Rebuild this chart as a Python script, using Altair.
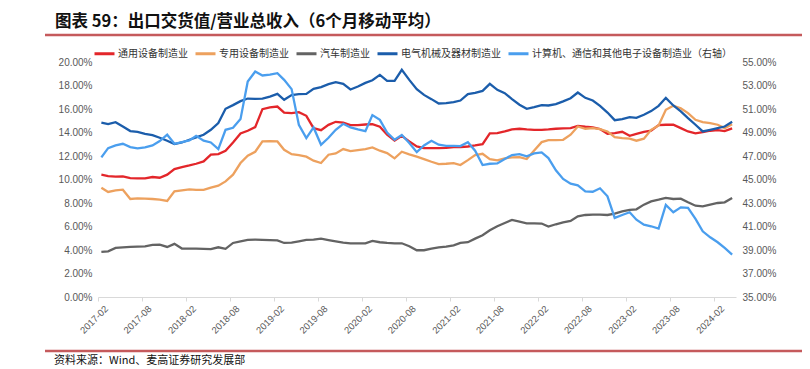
import altair as alt
import pandas as pd

# monthly points, 2017-02 .. 2024-04 (placed mid-month like Excel's date axis)
months = []
yy, mm = 2017, 2
for _ in range(87):
    months.append(f"{yy}-{mm:02d}-15")
    mm += 1
    if mm > 12:
        mm = 1
        yy += 1

general = [10.41, 10.29, 10.24, 10.26, 10.12, 10.10, 10.10, 10.21, 10.15, 10.41,
           10.89, 11.06, 11.20, 11.34, 11.54, 12.11, 12.16, 12.45, 13.15, 13.92,
           14.15, 14.46, 15.99, 16.13, 16.21, 15.70, 15.65, 15.73, 15.42, 14.37,
           14.20, 14.65, 14.91, 14.85, 14.63, 14.63, 14.68, 14.71, 14.49, 13.81,
           13.32, 13.72, 13.24, 12.81, 12.67, 12.67, 12.67, 12.70, 12.76, 12.76,
           12.81, 12.90, 13.01, 13.92, 13.95, 14.09, 14.26, 14.32, 14.26, 14.23,
           14.23, 14.26, 14.32, 14.35, 14.37, 14.57, 14.49, 14.43, 14.29, 13.89,
           13.95, 14.06, 13.72, 13.89, 14.06, 14.15, 14.63, 14.66, 14.66, 14.37,
           14.09, 13.92, 14.03, 14.15, 14.20, 14.12, 14.35]

special = [9.30, 8.94, 9.08, 9.13, 8.34, 8.40, 8.37, 8.34, 8.28, 8.17,
           8.99, 9.08, 9.16, 9.11, 9.11, 9.30, 9.47, 9.84, 10.41, 11.40,
           12.02, 12.36, 13.24, 13.27, 13.24, 12.53, 12.16, 12.08, 11.94, 11.60,
           11.40, 12.11, 12.22, 12.59, 12.42, 12.50, 12.59, 12.73, 12.45, 12.25,
           11.80, 12.36, 12.14, 11.94, 11.74, 11.51, 11.31, 11.34, 11.40, 11.23,
           11.65, 12.08, 12.19, 11.74, 11.63, 11.80, 11.88, 11.91, 11.74, 12.47,
           13.18, 13.35, 13.35, 13.38, 13.81, 14.51, 14.32, 14.37, 14.29, 14.09,
           13.61, 13.52, 13.47, 13.30, 13.47, 14.23, 14.60, 15.93, 16.27, 16.07,
           15.65, 15.08, 14.88, 14.80, 14.66, 14.37, 14.71]

auto = [3.84, 3.89, 4.18, 4.23, 4.26, 4.29, 4.31, 4.43, 4.46, 4.26,
        4.52, 4.12, 4.12, 4.12, 4.10, 4.07, 4.23, 4.10, 4.60, 4.74,
        4.86, 4.88, 4.86, 4.84, 4.82, 4.60, 4.63, 4.74, 4.86, 4.88,
        4.97, 4.85, 4.74, 4.63, 4.57, 4.57, 4.57, 4.77, 4.66, 4.60,
        4.57, 4.57, 4.32, 3.98, 3.98, 4.12, 4.23, 4.29, 4.40, 4.60,
        4.66, 4.97, 5.25, 5.68, 6.02, 6.30, 6.56, 6.41, 6.27, 6.27,
        6.25, 5.99, 6.19, 6.36, 6.47, 6.87, 6.98, 7.01, 7.01, 6.98,
        7.09, 7.29, 7.41, 7.46, 7.86, 8.14, 8.28, 8.43, 8.34, 8.37,
        8.06, 7.77, 7.72, 7.86, 8.00, 8.06, 8.43]

electric = [14.85, 14.71, 14.88, 14.51, 14.12, 14.06, 13.89, 13.78, 13.55, 13.30,
            13.01, 13.15, 13.38, 13.58, 13.81, 14.23, 14.80, 16.02, 16.33, 16.67,
            16.89, 16.87, 16.89, 17.06, 17.29, 16.78, 17.18, 17.26, 17.29, 17.71,
            17.86, 18.11, 18.28, 18.14, 17.66, 17.91, 18.22, 18.45, 18.90, 18.39,
            18.39, 19.33, 18.48, 17.69, 17.20, 16.84, 16.47, 16.50, 16.58, 16.72,
            17.26, 17.37, 17.54, 18.14, 17.63, 17.35, 16.84, 16.36, 16.02, 16.16,
            16.33, 16.30, 16.41, 16.65, 16.92, 17.40, 16.95, 16.72, 16.27, 15.70,
            15.05, 15.14, 15.31, 15.25, 15.51, 15.82, 16.27, 16.95, 16.30, 15.79,
            15.22, 14.66, 14.09, 14.23, 14.37, 14.51, 14.91]

computer = [46.88, 47.67, 47.90, 48.04, 47.76, 47.65, 47.73, 47.90, 48.27, 48.81,
            48.04, 48.18, 48.32, 48.72, 48.30, 48.15, 47.59, 49.23, 49.40, 50.14,
            53.34, 54.19, 53.85, 53.93, 54.05, 53.48, 52.69, 49.66, 48.52, 49.43,
            47.96, 48.55, 49.23, 49.74, 49.43, 49.26, 49.12, 50.48, 50.08, 49.00,
            48.38, 48.78, 48.10, 47.33, 47.90, 48.30, 47.96, 47.87, 47.87, 47.84,
            48.18, 47.45, 46.23, 46.34, 46.37, 46.74, 47.08, 47.16, 46.97, 47.22,
            47.31, 46.82, 45.78, 45.05, 44.64, 44.50, 43.99, 43.96, 44.25, 43.57,
            41.73, 41.98, 42.21, 41.58, 41.16, 41.02, 40.82, 42.83, 42.21, 42.63,
            42.58, 41.64, 40.59, 40.08, 39.66, 39.18, 38.61]

names = ["通用设备制造业", "专用设备制造业", "汽车制造业", "电气机械及器材制造业",
         "计算机、通信和其他电子设备制造业（右轴）"]
colors = ["#E3262A", "#EDA15E", "#636363", "#1B5DAB", "#4A9EEE"]

left_ticks = list(range(0, 21, 2))
right_ticks = list(range(35, 56, 2))

TITLE = "图表 59：出口交货值/营业总收入（6个月移动平均）"
SOURCE = "资料来源：Wind、麦高证券研究发展部"

left_df = pd.concat([
    pd.DataFrame({"date": months, "value": v, "series": n})
    for v, n in zip([general, special, auto, electric], names[:4])
])
right_df = pd.DataFrame({"date": months, "value": computer, "series": names[4]})

W, H = 638, 235
LABEL_FONT = "Liberation Sans"
CJK = "Noto Sans CJK SC"

tick_dates = []
ty, tm = 2017, 2
while (ty, tm) <= (2024, 2):
    tick_dates.append(alt.DateTime(year=ty, month=tm, date=1, utc=True))
    tm += 6
    if tm > 12:
        tm -= 12
        ty += 1

x_enc = alt.X(
    "date:T",
    title=None,
    scale=alt.Scale(type="utc",
                    domain=[alt.DateTime(year=2017, month=2, date=1, utc=True),
                            alt.DateTime(year=2024, month=5, date=1, utc=True)]),
    axis=alt.Axis(values=tick_dates, labelExpr="utcFormat(datum.value, '%Y-%m')",
                  labelAngle=-45, labelAlign="right", labelBaseline="middle",
                  labelFontSize=9.5, labelColor="#595959", labelFont=LABEL_FONT,
                  labelPadding=6, labelOffset=8, grid=False, domainColor="#D9D9D9",
                  tickColor="#D9D9D9", tickSize=4, labelOverlap=False),
)

legend = alt.Legend(title=None, orient="none", legendX=-5, legendY=-20,
                    direction="horizontal", columns=5, symbolType="stroke",
                    symbolStrokeWidth=3, symbolSize=400, labelFontSize=10,
                    labelFont=CJK, labelColor="#333333", columnPadding=1,
                    labelOffset=2, padding=0, labelLimit=0)
color_enc = alt.Color("series:N", scale=alt.Scale(domain=names, range=colors),
                      legend=legend)

left = alt.Chart(left_df).mark_line(strokeWidth=2.3).encode(
    x=x_enc,
    y=alt.Y("value:Q", title=None,
            scale=alt.Scale(domain=[0, 20], nice=False, zero=False),
            axis=alt.Axis(orient="left", values=left_ticks,
                          labelExpr="format(datum.value, '.2f') + '%'",
                          grid=False, domain=False, ticks=False, labelPadding=6,
                          labelFontSize=10, labelColor="#595959", labelFont=LABEL_FONT)),
    color=color_enc,
)

right = alt.Chart(right_df).mark_line(strokeWidth=2.3).encode(
    x=x_enc,
    y=alt.Y("value:Q", title=None,
            scale=alt.Scale(domain=[35, 55], nice=False, zero=False),
            axis=alt.Axis(orient="right", values=right_ticks,
                          labelExpr="format(datum.value, '.2f') + '%'",
                          grid=False, domain=False, ticks=False, labelPadding=6,
                          labelFontSize=10, labelColor="#595959", labelFont=LABEL_FONT)),
    color=color_enc,
)

one = pd.DataFrame({"t": [TITLE]})
title_mark = alt.Chart(one).mark_text(
    align="left", baseline="middle", fontSize=16.5, fontWeight="bold",
    font=CJK, color="#111111"
).encode(x=alt.value(-43), y=alt.value(-40), text="t:N")

top_rule = alt.Chart(one).mark_rule(color="#C55A5C", strokeWidth=2.5).encode(
    x=alt.value(-53), x2=alt.value(704), y=alt.value(-27))

bottom_rule = alt.Chart(one).mark_rule(color="#C55A5C", strokeWidth=2.5).encode(
    x=alt.value(-53), x2=alt.value(704), y=alt.value(289))

src = pd.DataFrame({"t": [SOURCE]})
source_mark = alt.Chart(src).mark_text(
    align="left", baseline="middle", fontSize=11, font=CJK, color="#111111"
).encode(x=alt.value(-44), y=alt.value(299), text="t:N")

chart = alt.layer(left, right, title_mark, top_rule, bottom_rule, source_mark).resolve_scale(
    y="independent"
).properties(
    width=W, height=H,
    autosize=alt.AutoSizeParams(type="none"),
    padding={"left": 90, "top": 54, "right": 66, "bottom": 72},
    background="white",
).configure_view(stroke=None)

chart.save("out.html", embed_options={"renderer": "svg", "actions": False})
